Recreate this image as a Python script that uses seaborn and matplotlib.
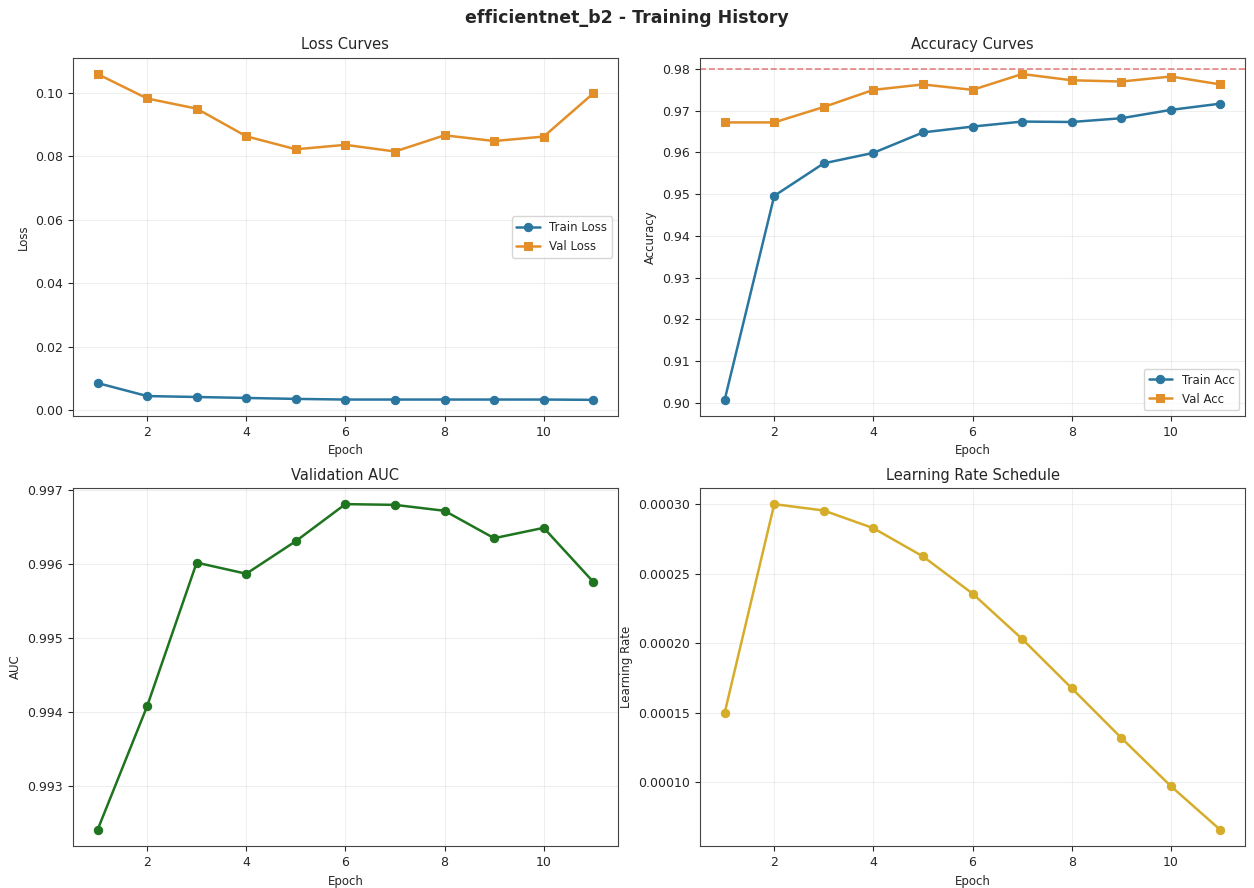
import numpy as np
import pandas as pd
import matplotlib
matplotlib.use("Agg")
import matplotlib.pyplot as plt
import seaborn as sns

epochs = [1, 2, 3, 4, 5, 6, 7, 8, 9, 10, 11]
train_loss = [0.0086, 0.0045, 0.0042, 0.0039, 0.0036, 0.0034, 0.0034, 0.0034, 0.0034, 0.0034, 0.0033]
val_loss = [0.1059, 0.0982, 0.0950, 0.0863, 0.0822, 0.0836, 0.0815, 0.0866, 0.0848, 0.0862, 0.0998]
train_acc = [0.9007, 0.9496, 0.9574, 0.9599, 0.9648, 0.9662, 0.9674, 0.9673, 0.9682, 0.9702, 0.9717]
val_acc = [0.9672, 0.9672, 0.9709, 0.9750, 0.9763, 0.9750, 0.9788, 0.9773, 0.9770, 0.9782, 0.9763]
val_auc = [0.99241, 0.99408, 0.99602, 0.99587, 0.99631, 0.99681, 0.99680, 0.99672, 0.99635, 0.99649, 0.99576]
lr = [0.000150, 0.000300, 0.0002954, 0.0002827, 0.0002624, 0.0002357, 0.0002031, 0.0001677, 0.0001320, 0.0000973, 0.0000658]
target_acc = 0.98

sns.set_style("ticks")
plt.rcParams['font.family'] = ['DejaVu Sans']

c_train = '#2a769f'
c_val = '#e28f2a'
c_auc = '#1f741f'
c_lr = '#d6ad2a'

fig, axes = plt.subplots(2, 2, figsize=(12.54, 8.88), dpi=100)
fig.subplots_adjust(left=0.058, right=0.993, top=0.935, bottom=0.047, wspace=0.15, hspace=0.2)
fig.suptitle('efficientnet_b2 - Training History', fontsize=12.5, fontweight='bold', y=0.99)

df = pd.DataFrame({'epoch': epochs, 'train_loss': train_loss, 'val_loss': val_loss,
                   'train_acc': train_acc, 'val_acc': val_acc, 'val_auc': val_auc, 'lr': lr})

def style(ax, title, ylabel):
    ax.set_title(title, fontsize=10.5)
    ax.set_xlabel('Epoch', fontsize=8.5)
    ax.set_ylabel(ylabel, fontsize=8.5)
    ax.tick_params(labelsize=9)
    ax.grid(True, alpha=0.3)
    for s in ax.spines.values():
        s.set_color('#444444')

ax = axes[0, 0]
sns.lineplot(data=df, x='epoch', y='train_loss', ax=ax, color=c_train, marker='o', markersize=6,
             markeredgecolor=c_train, linewidth=1.8, label='Train Loss')
sns.lineplot(data=df, x='epoch', y='val_loss', ax=ax, color=c_val, marker='s', markersize=6,
             markeredgecolor=c_val, linewidth=1.8, label='Val Loss')
style(ax, 'Loss Curves', 'Loss')
ax.legend(loc='center right', fontsize=8.5)

ax = axes[0, 1]
sns.lineplot(data=df, x='epoch', y='train_acc', ax=ax, color=c_train, marker='o', markersize=6,
             markeredgecolor=c_train, linewidth=1.8, label='Train Acc')
sns.lineplot(data=df, x='epoch', y='val_acc', ax=ax, color=c_val, marker='s', markersize=6,
             markeredgecolor=c_val, linewidth=1.8, label='Val Acc')
ax.axhline(target_acc, color='#d9534f', linestyle='--', alpha=0.7, linewidth=1.2)
style(ax, 'Accuracy Curves', 'Accuracy')
ax.legend(loc='lower right', fontsize=8.5)

ax = axes[1, 0]
sns.lineplot(data=df, x='epoch', y='val_auc', ax=ax, color=c_auc, marker='o', markersize=6,
             markeredgecolor=c_auc, linewidth=1.8)
style(ax, 'Validation AUC', 'AUC')

ax = axes[1, 1]
sns.lineplot(data=df, x='epoch', y='lr', ax=ax, color=c_lr, marker='o', markersize=6,
             markeredgecolor=c_lr, linewidth=1.8)
style(ax, 'Learning Rate Schedule', 'Learning Rate')

for a in axes.flat:
    a.set_xticks([2, 4, 6, 8, 10])

fig.savefig('out.png', dpi=100)
